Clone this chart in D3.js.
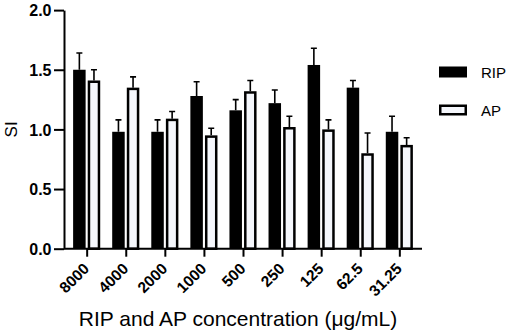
<!DOCTYPE html>
<html>
<head>
<meta charset="utf-8">
<script src="https://cdn.jsdelivr.net/npm/d3@7"></script>
<style>
  body { margin: 0; background: #fff; }
  text { font-family: "Liberation Sans", Arial, sans-serif; }
</style>
</head>
<body>
<svg id="drawing_region"></svg>
<script>
// concentrations (µg/mL) on the x axis
const categories = ["8000", "4000", "2000", "1000", "500", "250", "125", "62.5", "31.25"];
const ripMean = [1.50, 0.98, 0.98, 1.28, 1.16, 1.22, 1.54, 1.35, 0.98];
const ripErr  = [0.14, 0.10, 0.10, 0.12, 0.09, 0.11, 0.14, 0.06, 0.13];
const apMean  = [1.41, 1.35, 1.09, 0.95, 1.32, 1.02, 1.00, 0.80, 0.87];
const apErr   = [0.09, 0.09, 0.06, 0.06, 0.09, 0.09, 0.08, 0.17, 0.06];
const yTicks  = [0, 0.5, 1.0, 1.5, 2.0];
const seriesNames = ["RIP", "AP"];

const W = 510, H = 334;
const svg = d3.select('#drawing_region')
    .attr('width', W)
    .attr('height', H);

const x = d3.scalePoint()
    .domain(categories)
    .range([64, 422])
    .padding(0.58);

const y = d3.scaleLinear()
    .domain([0, 2])
    .range([248.7, 10.1]);

const barW = 12.5;
const off = 7.3;

const rows = categories.map((c, i) => ({
    cat: c, rip: ripMean[i], ripE: ripErr[i], ap: apMean[i], apE: apErr[i]
}));

// error bars (upper only), drawn first so bars cover the stem base
const errs = [];
rows.forEach(d => {
    errs.push({ cx: x(d.cat) - off, v: d.rip, e: d.ripE });
    errs.push({ cx: x(d.cat) + off, v: d.ap, e: d.apE });
});

svg.selectAll('.err')
    .data(errs)
    .enter()
    .append('path')
    .attr('class', 'err')
    .attr('d', d => `M${d.cx},${y(d.v)} V${y(d.v + d.e)} M${d.cx - 3},${y(d.v + d.e)} H${d.cx + 3}`)
    .attr('stroke', '#000')
    .attr('stroke-width', 1.6)
    .attr('fill', 'none');

// RIP bars
svg.selectAll('.rip')
    .data(rows)
    .enter()
    .append('rect')
    .attr('class', 'rip')
    .attr('x', d => x(d.cat) - off - barW / 2)
    .attr('y', d => y(d.rip))
    .attr('width', barW)
    .attr('height', d => y(0) - y(d.rip))
    .attr('fill', '#000');

// AP bars (outlined)
svg.selectAll('.ap')
    .data(rows)
    .enter()
    .append('rect')
    .attr('class', 'ap')
    .attr('x', d => x(d.cat) + off - barW / 2 + 1.25)
    .attr('y', d => y(d.ap) + 1.25)
    .attr('width', barW - 2.5)
    .attr('height', d => y(0) - y(d.ap) - 1.25)
    .attr('fill', '#f5f7fc')
    .attr('stroke', '#000')
    .attr('stroke-width', 2.5);

// y axis
const yAxis = svg.append('g')
    .attr('transform', 'translate(64,0)')
    .call(d3.axisLeft(y).tickValues(yTicks).tickFormat(d3.format('.1f')).tickSize(10).tickSizeOuter(0));
yAxis.select('.domain').attr('stroke-width', 2);
yAxis.selectAll('.tick line').attr('stroke-width', 2);
yAxis.selectAll('text')
    .attr('font-size', 16)
    .attr('font-weight', 'bold')
    .attr('fill', '#000')
    .attr('x', -12.5)
    .attr('dy', '0.36em');

// x axis
const xAxis = svg.append('g')
    .attr('transform', `translate(0,${y(0)})`)
    .call(d3.axisBottom(x).tickSize(8).tickSizeOuter(0));
xAxis.select('.domain').attr('stroke-width', 2).attr('d', 'M64,0H422');
xAxis.selectAll('.tick line').attr('stroke-width', 2);
xAxis.selectAll('text')
    .attr('font-size', 15.5)
    .attr('font-weight', 'bold')
    .attr('fill', '#000')
    .attr('text-anchor', 'end')
    .attr('dy', 0)
    .attr('transform', 'translate(3,21) rotate(-45)')
    .attr('x', 0)
    .attr('y', 0);

// axis titles
svg.append('text')
    .attr('x', 238)
    .attr('y', 326)
    .attr('text-anchor', 'middle')
    .attr('font-size', 21)
    .attr('fill', '#000')
    .text('RIP and AP concentration (μg/mL)');

svg.append('text')
    .attr('transform', `translate(17,${y(1)}) rotate(-90)`)
    .attr('text-anchor', 'middle')
    .attr('font-size', 17)
    .attr('fill', '#000')
    .text('SI');

// legend
const legend = svg.selectAll('.legend')
    .data(seriesNames)
    .enter()
    .append('g')
    .attr('class', 'legend')
    .attr('transform', (d, i) => `translate(439,${66.5 + i * 38})`);

legend.append('rect')
    .attr('x', (d, i) => i ? 1.25 : 0)
    .attr('y', (d, i) => i ? 1.25 : 0)
    .attr('width', (d, i) => i ? 25.5 : 28)
    .attr('height', (d, i) => i ? 8.5 : 11)
    .attr('fill', (d, i) => i ? '#f5f7fc' : '#000')
    .attr('stroke', (d, i) => i ? '#000' : 'none')
    .attr('stroke-width', 2.5);

legend.append('text')
    .attr('x', 42)
    .attr('y', 11)
    .attr('font-size', 15)
    .attr('fill', '#000')
    .text(d => d);
</script>
</body>
</html>
